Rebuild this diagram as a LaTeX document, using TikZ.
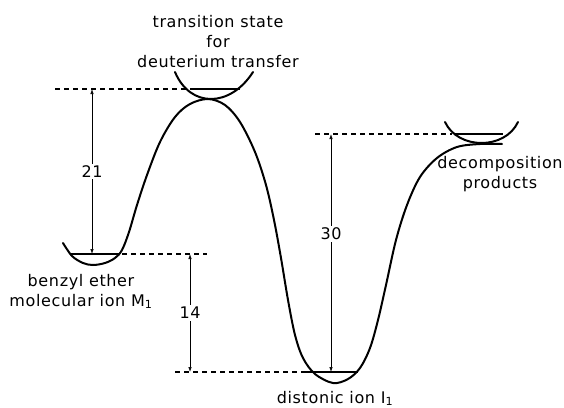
\documentclass[tikz,border=0pt]{standalone}
\usepackage{fontspec}
\setmainfont{DejaVu Sans}[LetterSpace=4]
\usetikzlibrary{arrows.meta,positioning}
\tikzset{
  pes/.style={line width=2pt,line cap=round,line join=round},
  lvl/.style={line width=1.1pt,dash pattern=on 5pt off 4pt},
  rim/.style={line width=1.3pt},
  dim/.style={{Latex[length=5pt,width=3.5pt]}-{Latex[length=5pt,width=3.5pt]},line width=0.7pt},
  lbl/.style={align=center,inner sep=0pt,font=\fontsize{16}{20}\selectfont},
  num/.style={lbl,fill=white,inner sep=2pt},
}
\begin{document}
\begin{tikzpicture}[x=1pt,y=-1pt]
\useasboundingbox (0,0) rectangle (564,407);
% energy levels
\coordinate (tsA) at (92,89);   \coordinate (tsB) at (188,89);
\coordinate (m1A) at (92,254);  \coordinate (m1B) at (122,254); \coordinate (m1C) at (207,254);
\coordinate (i1A) at (175,372); \coordinate (i1B) at (305,372);
\coordinate (dpA) at (315,134); \coordinate (dpB) at (452,134);
\coordinate (d14) at (190,254); \coordinate (e14) at (190,372);
\coordinate (d30) at (331,134); \coordinate (e30) at (331,372);
% potential energy curve
\draw[pes] plot[smooth,tension=0.55] coordinates {
  (63,243) (72,256) (83,263) (93,265) (105,263) (115,258) (122,250)
  (129,232) (137,205) (147,175) (160,142) (175,117) (190,104) (208,99)
  (225,105) (240,122) (255,152) (266,185) (274,220) (281,258) (288,300)
  (295,335) (303,358) (315,374) (333,383) (348,379) (360,368) (370,348)
  (378,320) (386,285) (396,240) (407,205) (420,177) (437,158) (457,147)
  (480,144) (502,144)};
% upper wells
\draw[pes] (175,72) .. controls (190,108) and (230,108) .. (253,72);
\draw[pes] (445,122) .. controls (458,150) and (505,150) .. (518,122);
% rims
\draw[rim] (190,89) -- (240,89);
\draw[rim] (455,134) -- (503,134);
\draw[rim] (70,254) -- (120,254);
\draw[rim] (305,372) -- (358,372);
% dashed levels
\draw[lvl] (55,89) -- (tsB);
\draw[lvl] (m1B) -- (m1C);
\draw[lvl] (i1A) -- (i1B);
\draw[lvl] (dpA) -- (dpB);
% differences
\draw[dim] (tsA) -- node[num]{21} (m1A);
\draw[dim] (d14) -- node[num]{14} (e14);
\draw[dim] (d30) -- node[num,pos=.42]{30} (e30);
% labels
\node[lbl,anchor=north] (ts) at (218,15) {transition state\\for\\deuterium transfer};
\node[lbl,anchor=north] (m1) at (81,274) {benzyl ether\\molecular ion M\textsubscript{1}};
\node[lbl,anchor=base] (i1) at (335,403) {distonic ion I\textsubscript{1}};
\node[lbl,anchor=north] (dp) at (500,156) {decomposition\\products};
\end{tikzpicture}
\end{document}
